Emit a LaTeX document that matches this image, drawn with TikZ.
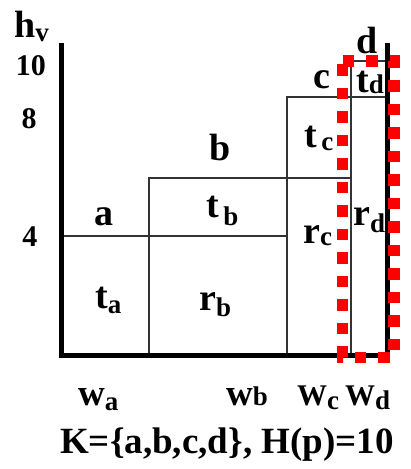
\documentclass[tikz,border=0pt]{standalone}
\usepackage{fontspec}
\setmainfont{Liberation Serif}
\newcommand{\fs}[1]{\fontsize{#1}{#1}\selectfont}
\newcommand{\lbl}[3]{#1\raisebox{-#3pt}{\fs{27}#2}}
\begin{document}
\begin{tikzpicture}[x=1pt,y=-1pt,
  axis/.style={line width=5pt,line join=miter},
  cell/.style={draw=black!80,line width=1.3pt},
  big/.style={font=\bfseries\fs{38},inner sep=0pt},
  num/.style={font=\bfseries\fs{30},inner sep=0pt,anchor=base},
  wlab/.style={font=\bfseries\fs{37},inner sep=0pt,anchor=base west},
  sel/.style={draw=red,line width=11.5pt,dash pattern=on 11.5pt off 12pt}]
\useasboundingbox (0,0) rectangle (411,469);
% cells
\draw[cell] (61,236) rectangle (149,355);
\draw[cell] (149,236) rectangle (287,355);
\draw[cell] (149,178) rectangle (287,236);
\draw[cell] (287,178) rectangle (351,355);
\draw[cell] (287,97) rectangle (351,178);
\draw[cell] (351,97) rectangle (387,355);
\draw[cell] (351,61) rectangle (387,97);
% axes
\draw[axis] (61,43) -- (61,355) -- (387,355) -- (387,43);
% axis labels
\node[big,anchor=base west] (hv) at (14,37) {\lbl{h}{v}{4}};
\node[num] (y10) at (31,75) {10};
\node[num] (y8) at (29,128) {8};
\node[num] (y4) at (30,246) {4};
% item labels
\node[big,anchor=base] (la) at (103.5,225) {a};
\node[big,anchor=base] (lb) at (220,160) {b};
\node[big,anchor=base] (lc) at (322,88) {c};
\node[big,anchor=base] (ld) at (367,53) {d};
\node[big,anchor=base west] (ta) at (95,308) {\lbl{t}{a}{5}};
\node[big,anchor=base west] (tb) at (206,217) {\lbl{t}{\,b}{8}};
\node[big,anchor=base west] (rb) at (199,310) {\lbl{r}{b}{6}};
\node[big,anchor=base west] (tc) at (304,147) {\lbl{t}{\,c}{3}};
\node[big,anchor=base west] (rc) at (303,243) {\lbl{r}{c}{2}};
\node[big,anchor=base west] (td) at (356,92) {\lbl{t}{d}{1}};
\node[big,anchor=base west] (rd) at (353,225) {\lbl{r}{d}{7}};
% width labels
\node[wlab] (wa) at (78,405) {\lbl{w}{a}{5}};
\node[wlab] (wb) at (226,405) {\lbl{w}{b}{0}};
\node[wlab,font=\bfseries\fs{30}] (wc) at (297,405) {\lbl{W}{c}{4}};
\node[wlab,font=\bfseries\fs{30}] (wd) at (345,405) {\lbl{W}{d}{4}};
\node[font=\bfseries\fs{37},inner sep=0pt,anchor=base west] (K) at (60,453) {K=\{a,b,c,d\}, H(p)=10};
% selection
\draw[sel] (342.5,61) -- (394,61) -- (394,357.5) -- (342.5,357.5) -- cycle;
\end{tikzpicture}
\end{document}
